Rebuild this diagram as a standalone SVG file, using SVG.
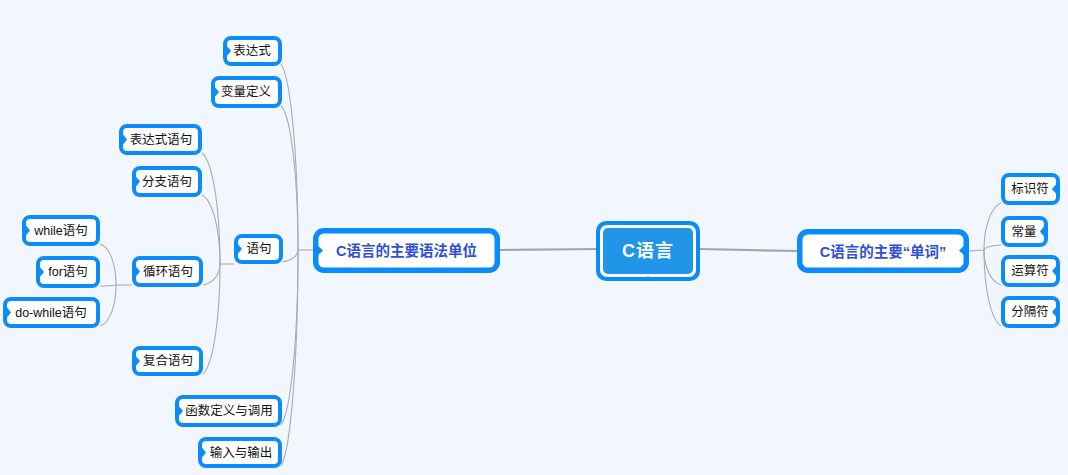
<svg xmlns="http://www.w3.org/2000/svg" width="1068" height="475" viewBox="0 0 1068 475">
<style>
.bg{fill:#F2F6FF}
.nb{fill:#FFFFFF;stroke:#0A8CFA;stroke-width:4}
.mb{fill:#FFFFFF;stroke:#0A8CFA;stroke-width:5.5}
.nt{fill:#0A8CFA}
.t{font-family:"Liberation Sans","Noto Sans CJK SC",sans-serif;font-size:12.5px;fill:#111111;text-anchor:middle;dominant-baseline:central}
.mt{font-family:"Liberation Sans","Noto Sans CJK SC",sans-serif;font-size:14.5px;font-weight:bold;fill:#2F50D6;text-anchor:middle;dominant-baseline:central}
.ct{font-family:"Liberation Sans","Noto Sans CJK SC",sans-serif;font-size:18px;font-weight:bold;fill:#FFFFFF;text-anchor:middle;dominant-baseline:central;letter-spacing:1px}
.c{fill:none;stroke:#ABABAB;stroke-width:1.1}
.cm{fill:none;stroke:#A6A6A6;stroke-width:2.2}
</style>
<rect class="bg" x="0" y="0" width="1068" height="475"/>
<g id="connectors">
<path class="cm" d="M500,250 L597,249"/>
<path class="cm" d="M700,249 L797,251"/>
<path class="c" d="M313,250 L298,250"/>
<path class="c" d="M281,64 C291,79 298,157 298,250"/>
<path class="c" d="M281,106 C291,115 298,178 298,250"/>
<path class="c" d="M282,262 C291,261 298,256 298,250"/>
<path class="c" d="M281,425 C291,411 298,338 298,250"/>
<path class="c" d="M281,466 C291,449 298,358 298,250"/>
<path class="c" d="M234,264 L220,264"/>
<path class="c" d="M202,153 C213,162 220,209 220,264"/>
<path class="c" d="M202,195 C213,201 220,230 220,264"/>
<path class="c" d="M203,285 C213,283 220,275 220,264"/>
<path class="c" d="M203,374 C213,365 220,319 220,264"/>
<path class="c" d="M132,285 L116,285"/>
<path class="c" d="M100,244 C110,247 116,265 116,285"/>
<path class="c" d="M100,286 C110,286 116,285 116,285"/>
<path class="c" d="M100,326 C110,323 116,305 116,285"/>
<path class="c" d="M969,251 L984,250"/>
<path class="c" d="M1001,203 C991,207 984,227 984,250"/>
<path class="c" d="M1001,245 C991,245 984,248 984,250"/>
<path class="c" d="M1001,285 C991,282 984,267 984,250"/>
<path class="c" d="M1001,326 C991,320 984,288 984,250"/>
</g>
<g id="n-biaodashi">
<rect class="nb" x="225" y="38" width="55" height="26" rx="6"/>
<polygon class="nt" points="225,44 231,51 225,58"/>
<text class="t" x="252" y="51">表达式</text>
</g>
<g id="n-bianliang">
<rect class="nb" x="213" y="78" width="67" height="28" rx="6"/>
<polygon class="nt" points="213,85 219,92 213,99"/>
<text class="t" x="246" y="92">变量定义</text>
</g>
<g id="n-biaodashiyuju">
<rect class="nb" x="121" y="126" width="79" height="27" rx="6"/>
<polygon class="nt" points="121,132 127,139.5 121,147"/>
<text class="t" x="161" y="139.5">表达式语句</text>
</g>
<g id="n-fenzhi">
<rect class="nb" x="134" y="168" width="66" height="27" rx="6"/>
<polygon class="nt" points="134,174 140,181.5 134,189"/>
<text class="t" x="167" y="181.5">分支语句</text>
</g>
<g id="n-while">
<rect class="nb" x="24" y="217" width="74" height="27" rx="6"/>
<polygon class="nt" points="24,223 30,230.5 24,238"/>
<text class="t" x="61" y="230.5">while语句</text>
</g>
<g id="n-for">
<rect class="nb" x="38" y="258" width="60" height="28" rx="6"/>
<polygon class="nt" points="38,265 44,272 38,279"/>
<text class="t" x="68" y="272">for语句</text>
</g>
<g id="n-dowhile">
<rect class="nb" x="5" y="299" width="93" height="27" rx="6"/>
<polygon class="nt" points="5,305 11,312.5 5,320"/>
<text class="t" x="51" y="312.5">do-while语句</text>
</g>
<g id="n-xunhuan">
<rect class="nb" x="134" y="258" width="67" height="27" rx="6"/>
<polygon class="nt" points="134,264 140,271.5 134,279"/>
<text class="t" x="168" y="271.5">循环语句</text>
</g>
<g id="n-fuhe">
<rect class="nb" x="134" y="348" width="67" height="26" rx="6"/>
<polygon class="nt" points="134,354 140,361 134,368"/>
<text class="t" x="168" y="361">复合语句</text>
</g>
<g id="n-yuju">
<rect class="nb" x="236" y="236" width="45" height="26" rx="6"/>
<polygon class="nt" points="236,242 242,249 236,256"/>
<text class="t" x="259" y="249">语句</text>
</g>
<g id="n-hanshu">
<rect class="nb" x="177" y="397" width="103" height="28" rx="6"/>
<polygon class="nt" points="177,404 183,411 177,418"/>
<text class="t" x="229" y="411">函数定义与调用</text>
</g>
<g id="n-shuru">
<rect class="nb" x="200" y="439" width="80" height="27" rx="6"/>
<polygon class="nt" points="200,445 206,452.5 200,460"/>
<text class="t" x="241" y="452.5">输入与输出</text>
</g>
<g id="n-yufa">
<rect class="mb" x="315.75" y="230.75" width="181.5" height="39.5" rx="8"/>
<polygon class="nt" points="316,244 323,250.5 316,257"/>
<text class="mt" x="406.5" y="251">C语言的主要语法单位</text>
</g>
<g id="n-center">
<rect x="596" y="221" width="104" height="60" rx="10" fill="#0A8CFA"/>
<rect x="600" y="225" width="96" height="52" rx="7" fill="#FFFFFF"/>
<rect x="603" y="228" width="90" height="46" rx="5" fill="#2196E8"/>
<polygon points="643,281 648,276 653,281" fill="#0A8CFA"/>
<text class="ct" x="648" y="251">C语言</text>
</g>
<g id="n-danci">
<rect class="mb" x="799.75" y="231.75" width="166.5" height="38.5" rx="8"/>
<polygon class="nt" points="966,244 959,250.5 966,257"/>
<text class="mt" x="883" y="251.5">C语言的主要“单词”</text>
</g>
<g id="n-biaoshifu">
<rect class="nb" x="1003" y="175" width="55" height="28" rx="6"/>
<polygon class="nt" points="1058,182 1052,189 1058,196"/>
<text class="t" x="1030" y="189">标识符</text>
</g>
<g id="n-changliang">
<rect class="nb" x="1003" y="218" width="43" height="27" rx="6"/>
<polygon class="nt" points="1046,224 1040,231.5 1046,239"/>
<text class="t" x="1024" y="231.5">常量</text>
</g>
<g id="n-yunsuanfu">
<rect class="nb" x="1003" y="257" width="55" height="28" rx="6"/>
<polygon class="nt" points="1058,264 1052,271 1058,278"/>
<text class="t" x="1030" y="271">运算符</text>
</g>
<g id="n-fengefu">
<rect class="nb" x="1003" y="298" width="55" height="28" rx="6"/>
<polygon class="nt" points="1058,305 1052,312 1058,319"/>
<text class="t" x="1030" y="312">分隔符</text>
</g>
</svg>
